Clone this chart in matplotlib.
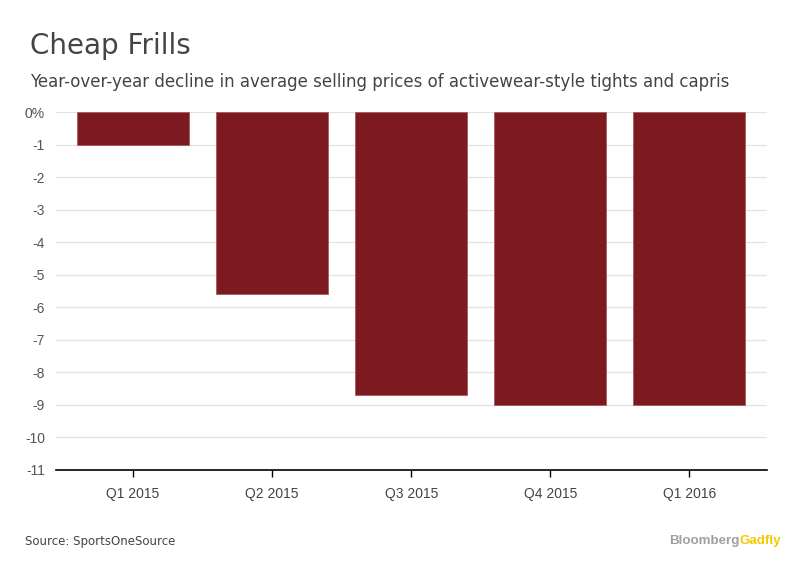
import matplotlib.pyplot as plt

quarters = ["Q1 2015", "Q2 2015", "Q3 2015", "Q4 2015", "Q1 2016"]
decline = [-1.0, -5.6, -8.7, -9.0, -9.0]
yticks = list(range(0, -12, -1))
ylabels = ["0%"] + [str(v) for v in yticks[1:]]

fig = plt.figure(figsize=(8.12, 5.78), dpi=100)
ax = fig.add_axes([0.069, 0.187, 0.876, 0.619])

x = list(range(len(quarters)))
ax.bar(x, decline, width=0.806, color="#7d1a1f", edgecolor="#a85a5e", linewidth=0.6, zorder=3)

ax.set_ylim(-11, 0)
ax.set_xlim(-0.554, 4.561)
ax.set_yticks(yticks)
ax.set_yticklabels(ylabels, family="Liberation Sans")
ax.set_xticks(x)
ax.set_xticklabels(quarters, family="Liberation Sans")

ax.grid(axis="y", color="#e3e3e3", linewidth=0.9, zorder=0)
for s in ["top", "right", "left"]:
    ax.spines[s].set_visible(False)
ax.spines["bottom"].set_color("black")
ax.spines["bottom"].set_linewidth(1.2)
ax.tick_params(axis="y", length=0, pad=8, labelsize=10, labelcolor="#555555")
ax.tick_params(axis="x", length=5, width=1, color="black", pad=7, labelsize=10, labelcolor="#444444")

fig.text(0.037, 0.92, "Cheap Frills", fontsize=20, color="#444444", va="center")
fig.text(0.037, 0.858, "Year-over-year decline in average selling prices of activewear-style tights and capris",
         fontsize=12.0, color="#444444", va="center")
fig.text(0.031, 0.064, "Source: SportsOneSource", fontsize=8.5, color="#444444", va="center")
fig.text(0.9105, 0.064, "Bloomberg", fontsize=9.6, color="#a0a0a0", va="center", ha="right",
         fontweight="bold", family="Liberation Sans")
fig.text(0.9105, 0.064, "Gadfly", fontsize=9.6, color="#f5c800", va="center", ha="left",
         fontweight="bold", family="Liberation Sans")

fig.savefig("out.png", dpi=100)
